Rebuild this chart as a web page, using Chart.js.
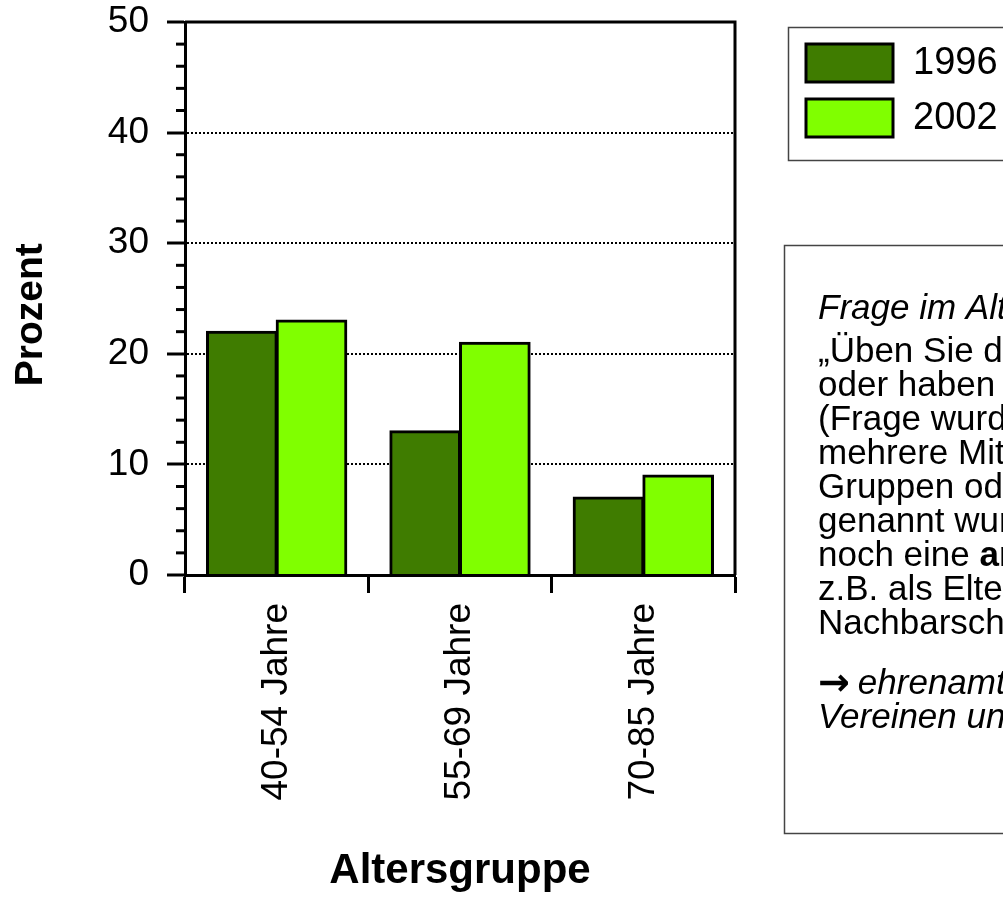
<!DOCTYPE html>
<html>
<head>
<meta charset="utf-8">
<script src="https://cdn.jsdelivr.net/npm/chart.js@4.4.1/dist/chart.umd.min.js"></script>
<style>
  html, body { margin: 0; padding: 0; background: #fff; }
  canvas { display: block; }
</style>
</head>
<body>
<canvas id="chart" width="1003" height="915"></canvas>
<script>
const categories = ['40-54 Jahre', '55-69 Jahre', '70-85 Jahre'];
const seriesNames = ['1996', '2002'];
const values1996 = [22, 13, 7];
const values2002 = [23, 21, 9];
const yMin = 0;
const yMax = 50;
const yStep = 10;
const yMinorStep = 2;

const yTitle = 'Prozent';
const xTitle = 'Altersgruppe';

// text in the box on the right (it runs past the edge of the picture)
const noteHeading = 'Frage im Alterssurvey:';
const noteLines = [
    '„Üben Sie derzeit ein Ehrenamt aus',
    'oder haben Sie eine Funktion inne?“',
    '(Frage wurde gestellt, wenn ein oder',
    'mehrere Mitgliedschaften in',
    'Gruppen oder Organisationen',
    'genannt wurden, sowie zusätzlich',
    'noch eine **andere** Tätigkeit,',
    'z.B. als Elternvertreter oder in der',
    'Nachbarschaftshilfe)'
];
const noteArrow = '→';
const noteConclusion = [
    'ehrenamtliches Engagement in',
    'Vereinen und Verbänden'
];

const darkGreen = '#3F7C00';
const lightGreen = '#80FF00';
const FONT = "'Liberation Sans', Arial, sans-serif";

const canvas = document.getElementById('chart');
const context = canvas.getContext('2d');

// minor ticks on the y axis plus the top and right frame lines
const framePlugin = {
    id: 'frame',
    afterDraw(chart) {
        const { ctx, chartArea } = chart;
        const yScale = chart.scales.y;
        ctx.save();
        ctx.strokeStyle = '#000';
        ctx.lineWidth = 3;
        for (let v = yMin + yMinorStep; v < yMax; v += yMinorStep) {
            if (v % yStep === 0) continue;
            const y = yScale.getPixelForValue(v);
            ctx.beginPath();
            ctx.moveTo(chartArea.left - 9, y);
            ctx.lineTo(chartArea.left, y);
            ctx.stroke();
        }
        ctx.beginPath();
        ctx.moveTo(chartArea.left, chartArea.top);
        ctx.lineTo(chartArea.right, chartArea.top);
        ctx.lineTo(chartArea.right, chartArea.bottom);
        ctx.stroke();
        ctx.restore();
    }
};

const drawMixed = (ctx, line, x, y, italic) => {
    const parts = line.split('**');
    let cx = x;
    parts.forEach((part, i) => {
        const bold = i % 2 === 1;
        ctx.font = `${italic ? 'italic ' : ''}${bold ? 'bold ' : ''}35px ${FONT}`;
        ctx.fillText(part, cx, y);
        cx += ctx.measureText(part).width;
    });
    return cx;
};

// legend box and the question box at the right
const sidePlugin = {
    id: 'side',
    afterDraw(chart) {
        const { ctx } = chart;
        ctx.save();

        ctx.strokeStyle = '#444';
        ctx.lineWidth = 1.5;
        ctx.strokeRect(788.5, 27.5, 300, 133);

        chart.data.datasets.forEach((ds, i) => {
            const top = 44 + i * 55;
            ctx.fillStyle = ds.backgroundColor;
            ctx.fillRect(806, top, 87, 38);
            ctx.strokeStyle = '#000';
            ctx.lineWidth = 3;
            ctx.strokeRect(806, top, 87, 38);
            ctx.fillStyle = '#000';
            ctx.font = `38px ${FONT}`;
            ctx.textBaseline = 'middle';
            ctx.fillText(ds.label, 913, top + 20);
        });

        ctx.strokeStyle = '#444';
        ctx.lineWidth = 1.5;
        ctx.strokeRect(784.5, 245.5, 300, 588);

        ctx.fillStyle = '#000';
        ctx.textBaseline = 'middle';
        const x = 818;
        drawMixed(ctx, noteHeading, x, 309, true);
        noteLines.forEach((line, i) => drawMixed(ctx, line, x, 352 + i * 34, false));
        noteConclusion.forEach((line, i) => {
            const y = 684 + i * 34;
            let lx = x;
            if (i === 0) {
                ctx.font = `bold 38px 'DejaVu Sans', sans-serif`;
                ctx.fillText(noteArrow, x, y + 1);
                lx = x + ctx.measureText(noteArrow).width + 8;
            }
            drawMixed(ctx, line, lx, y, true);
        });

        ctx.restore();
    }
};

const chart = new Chart(context, {
    type: 'bar',
    data: {
        labels: categories,
        datasets: [{
            label: seriesNames[0],
            data: values1996,
            backgroundColor: darkGreen,
            borderColor: '#000',
            borderWidth: 3,
            inflateAmount: 1
        }, {
            label: seriesNames[1],
            data: values2002,
            backgroundColor: lightGreen,
            borderColor: '#000',
            borderWidth: 3,
            inflateAmount: 1
        }]
    },
    options: {
        responsive: false,
        animation: false,
        events: [],
        categoryPercentage: 0.76,
        barPercentage: 1.0,
        layout: { padding: { top: 22, right: 268, bottom: 0, left: 0 } },
        plugins: {
            legend: { display: false },
            tooltip: { enabled: false }
        },
        scales: {
            x: {
                ticks: {
                    color: '#000',
                    font: { family: FONT, size: 37 },
                    minRotation: 90,
                    maxRotation: 90,
                    padding: 10
                },
                grid: {
                    offset: true,
                    drawOnChartArea: false,
                    tickLength: 18,
                    tickWidth: 3,
                    tickColor: '#000',
                    color: '#000'
                },
                border: { color: '#000', width: 3 },
                title: {
                    display: true,
                    text: xTitle,
                    color: '#000',
                    font: { family: FONT, size: 42, weight: 'bold' },
                    padding: { top: 0, bottom: 18 }
                },
                afterFit: (scale) => {
                    scale.height = 340;
                    scale.paddingLeft = 0;
                    scale.paddingRight = 0;
                }
            },
            y: {
                min: yMin,
                max: yMax,
                ticks: {
                    stepSize: yStep,
                    color: '#000',
                    font: { family: FONT, size: 37 },
                    padding: 18
                },
                grid: {
                    color: (ctx) => (ctx.tick && (ctx.tick.value === yMin || ctx.tick.value === yMax)) ? 'rgba(0,0,0,0)' : '#000',
                    lineWidth: 2,
                    tickLength: 18,
                    tickWidth: 3,
                    tickColor: '#000',
                    tickBorderDash: []
                },
                border: { color: '#000', width: 3, dash: [2, 2] },
                title: {
                    display: true,
                    // trailing spaces push the word a little below the axis centre, as in the original
                    text: yTitle + '   ',
                    color: '#000',
                    font: { family: FONT, size: 39, weight: 'bold' },
                    padding: { top: 8, bottom: 0 }
                },
                afterFit: (scale) => {
                    scale.width = 185;
                    scale.paddingTop = 0;
                    scale.paddingBottom = 0;
                }
            }
        }
    },
    plugins: [framePlugin, sidePlugin]
});
</script>
</body>
</html>
